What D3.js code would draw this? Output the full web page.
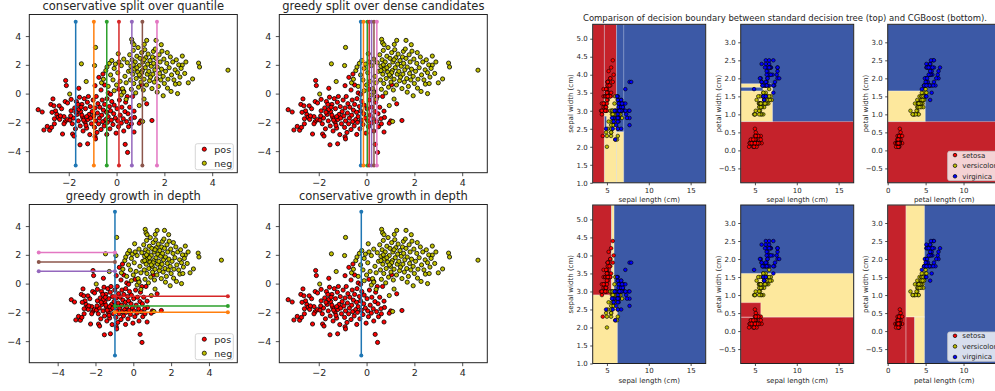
<!DOCTYPE html>
<html>
<head>
<meta charset="utf-8">
<script src="https://cdn.jsdelivr.net/npm/d3@7"></script>
<style>
  body { margin: 0; background: #fff; }
  svg text { font-family: "DejaVu Sans", sans-serif; fill: #262626; }
</style>
</head>
<body>
<svg id="chart" width="995" height="391"></svg>
<script>
// ---- toy data (left figure) ----
const posPoints = [
  [-3.28,-1.12],[-3.11,-1.28],[-3.04,-2.53],[-2.9,-2.28],[-2.66,-0.37],[-2.13,0.91],[-2.1,0.56],[-1.58,0.37],
  [-2.26,-2.81],[-1.84,-2.81],[-1.53,-3.56],[-1.21,-3.49],[-0.9,-3.0],[-0.88,-3.15],[-0.41,-2.84],[0.36,-3.53],
  [0.46,-4.09],[0.73,-2.67],[0.67,-0.2],[1.26,-0.71],[0.73,-1.22],[0.75,-1.66],[1.01,-1.9],[0.95,-2.06],
  [1.48,-1.87],[1.05,0.61],[-0.74,1.13],[-0.57,1.36],
  [-2.75,-0.75],[-2.62,-0.85],[-2.55,-1.2],[-2.5,-1.45],[-2.7,-1.3],[-2.45,-1.65],[-2.8,-2.55],[-2.72,-2.35],
  [-2.6,-2.1],[-2.38,-1.8],[-2.3,-1.05],[-2.2,-1.6],[-2.15,-1.95],[-2.05,-1.8],[-2.4,-0.85],[-2.15,-0.55],
  [-2.05,-0.65],[-2.2,-2.1],[-2.6,-1.75],[-2.35,-1.55],
  [-1.95,-1.85],[-1.9,-1.2],[-1.85,-2.1],[-1.8,-1.7],[-1.75,-1.0],[-1.72,-2.45],[-1.68,-0.55],[-1.65,-1.45],
  [-1.6,-1.9],[-1.55,-0.25],[-1.52,-2.25],[-1.5,-1.25],[-1.45,-0.75],[-1.42,-1.65],[-1.4,-2.6],[-1.35,-0.35],
  [-1.32,-2.0],[-1.3,-1.05],[-1.25,-2.4],[-1.22,-0.6],[-1.2,-1.8],[-1.15,-1.45],[-1.12,-2.85],[-1.1,-0.9],
  [-1.05,-2.1],[-1.02,-1.25],[-1.9,-0.4],[-1.78,-2.95],[-1.58,-1.1],[-1.48,-0.95],[-1.38,-1.85],[-1.28,-2.2],
  [-1.18,-0.2],[-1.62,-0.75],[-1.92,-1.55],[-1.7,-1.3],[-1.45,-1.5],[-1.25,-1.6],[-1.08,-1.7],
  [-0.98,-0.45],[-0.95,-1.55],[-0.92,-2.35],[-0.9,-1.0],[-0.88,-1.9],[-0.85,-0.2],[-0.82,-2.7],[-0.8,-1.35],
  [-0.78,-0.7],[-0.75,-2.1],[-0.72,-1.7],[-0.7,-0.95],[-0.65,-2.5],[-0.62,-1.5],[-0.6,-0.45],[-0.58,-1.95],
  [-0.55,-1.15],[-0.52,-2.25],[-0.5,-0.75],[-0.45,-1.8],[-0.42,-1.3],[-0.4,-0.35],[-0.38,-2.0],[-0.35,-1.6],
  [-0.3,-0.9],[-0.28,-2.45],[-0.25,-1.2],[-0.22,-1.85],[-0.2,-0.55],[-0.15,-2.15],[-0.12,-1.4],[-0.1,-0.8],
  [-0.05,-1.7],[-0.02,-2.75],[-0.35,0.05],[-0.65,0.25],[-0.9,0.55],[-0.5,0.6],[-0.25,-0.05],
  [0.02,-1.05],[0.05,-1.9],[0.08,-2.3],[0.12,-0.45],[0.15,-1.5],[0.2,-2.05],[0.22,-0.95],[0.28,-1.75],
  [0.3,-2.6],[0.35,-1.25],[0.38,-0.6],[0.42,-1.95],[0.48,-1.4],[0.5,-2.3],[0.55,-0.95],[0.6,-1.75],
  [0.62,-2.1],[0.1,0.3],[0.3,0.15],[0.45,-0.2]
];
const negPoints = [
  [4.66,1.63],[3.18,1.02],[3.43,2.12],[3.47,1.85],[2.75,2.61],[2.75,1.98],[2.55,0.0],[2.46,0.66],
  [2.13,0.38],[1.87,3.4],[1.65,3.7],[1.16,3.42],[0.63,3.77],[0.67,3.53],[0.73,3.4],[1.26,3.7],
  [-0.88,3.21],[-1.47,2.07],[-0.92,1.95],[-1.27,0.84],[-1.96,-0.03],[-0.63,0.75],[1.15,-0.38],[0.95,-0.83],
  [1.09,-1.94],[1.54,2.93],[0.07,2.77],
  [-0.45,1.6],[-0.4,1.85],[-0.3,2.1],[-0.25,1.3],[-0.2,2.3],[-0.15,0.95],[-0.1,1.75],[-0.05,2.05],
  [0.0,0.6],[0.05,1.45],[0.1,2.2],[0.15,0.85],[0.2,1.95],[0.25,0.35],[0.3,2.4],[0.35,1.2],
  [0.4,0.75],[0.45,2.15],[0.5,1.55],[-0.55,1.0],[-0.35,0.5],[0.2,-0.1],[-0.1,0.2],[0.4,-0.4],[0.3,0.1],
  [0.55,2.7],[0.58,0.95],[0.6,1.9],[0.62,0.3],[0.65,2.35],[0.68,1.35],[0.7,3.0],[0.72,0.7],
  [0.75,1.7],[0.78,2.2],[0.8,0.05],[0.82,1.05],[0.85,2.6],[0.88,1.5],[0.9,3.2],[0.92,0.45],
  [0.95,1.95],[0.98,2.45],[1.0,1.2],[1.02,0.8],[1.05,2.85],[1.08,1.6],[1.1,2.2],[1.12,0.25],
  [1.15,1.0],[1.18,3.05],[1.2,1.8],[1.22,2.5],[1.25,0.6],[1.28,1.35],[1.3,2.05],[1.32,2.75],
  [1.35,1.55],[1.38,0.9],[1.4,2.3],[1.42,1.15],[1.45,1.9],[1.48,0.35],[1.5,2.55],[0.6,1.6],
  [0.85,1.8],[1.05,1.45],[1.15,2.35],[0.7,2.0],[0.95,1.3],
  [1.52,1.35],[1.55,2.1],[1.58,0.8],[1.6,1.65],[1.62,3.1],[1.65,2.45],[1.68,1.05],[1.7,1.85],
  [1.75,0.5],[1.78,2.7],[1.8,1.4],[1.82,2.2],[1.85,0.95],[1.88,1.7],[1.9,2.95],[1.95,1.2],
  [1.98,2.4],[2.0,0.7],[2.05,1.55],[2.1,2.1],[2.12,2.85],[2.15,1.0],[2.2,1.8],[2.25,2.55],
  [2.3,1.3],[2.35,2.2],[2.4,0.95],[2.45,1.65],[2.5,2.35],[2.28,0.15],[1.7,0.1],[1.95,-0.15],
  [2.55,1.45],[2.6,2.0],[2.62,0.7],[2.65,1.15],[2.7,1.75],[2.85,1.4],[2.9,2.2],[3.0,0.75]
];
const tabColors = ["#1f77b4","#ff7f0e","#2ca02c","#d62728","#9467bd","#8c564b","#e377c2"];
const quantileSplits = [-1.71,-0.95,-0.41,0.10,0.64,1.08,1.69];
const denseSplits = [-0.24,-0.13,0.03,0.11,0.21,0.31,0.43];
const greedyRoot = -0.97;
const greedyLeftSplits = [0.86,1.51,2.16];   // purple, brown, pink
const greedyRightSplits = [-0.88,-1.56,-2.0]; // red, green, orange
const conservativeRoot = -0.22;

// ---- iris data (right figure) ----
const irisNames = ["setosa","versicolor","virginica"];
const sepalLength = [
  5.1,4.9,4.7,4.6,5.0,5.4,4.6,5.0,4.4,4.9,5.4,4.8,4.8,4.3,5.8,5.7,5.4,5.1,5.7,5.1,5.4,5.1,4.6,5.1,4.8,
  5.0,5.0,5.2,5.2,4.7,4.8,5.4,5.2,5.5,4.9,5.0,5.5,4.9,4.4,5.1,5.0,4.5,4.4,5.0,5.1,4.8,5.1,4.6,5.3,5.0,
  7.0,6.4,6.9,5.5,6.5,5.7,6.3,4.9,6.6,5.2,5.0,5.9,6.0,6.1,5.6,6.7,5.6,5.8,6.2,5.6,5.9,6.1,6.3,6.1,6.4,
  6.6,6.8,6.7,6.0,5.7,5.5,5.5,5.8,6.0,5.4,6.0,6.7,6.3,5.6,5.5,5.5,6.1,5.8,5.0,5.6,5.7,5.7,6.2,5.1,5.7,
  6.3,5.8,7.1,6.3,6.5,7.6,4.9,7.3,6.7,7.2,6.5,6.4,6.8,5.7,5.8,6.4,6.5,7.7,7.7,6.0,6.9,5.6,7.7,6.3,6.7,
  7.2,6.2,6.1,6.4,7.2,7.4,7.9,6.4,6.3,6.1,7.7,6.3,6.4,6.0,6.9,6.7,6.9,5.8,6.8,6.7,6.7,6.3,6.5,6.2,5.9
];
const sepalWidth = [
  3.5,3.0,3.2,3.1,3.6,3.9,3.4,3.4,2.9,3.1,3.7,3.4,3.0,3.0,4.0,4.4,3.9,3.5,3.8,3.8,3.4,3.7,3.6,3.3,3.4,
  3.0,3.4,3.5,3.4,3.2,3.1,3.4,4.1,4.2,3.1,3.2,3.5,3.6,3.0,3.4,3.5,2.3,3.2,3.5,3.8,3.0,3.8,3.2,3.7,3.3,
  3.2,3.2,3.1,2.3,2.8,2.8,3.3,2.4,2.9,2.7,2.0,3.0,2.2,2.9,2.9,3.1,3.0,2.7,2.2,2.5,3.2,2.8,2.5,2.8,2.9,
  3.0,2.8,3.0,2.9,2.6,2.4,2.4,2.7,2.7,3.0,3.4,3.1,2.3,3.0,2.5,2.6,3.0,2.6,2.3,2.7,3.0,2.9,2.9,2.5,2.8,
  3.3,2.7,3.0,2.9,3.0,3.0,2.5,2.9,2.5,3.6,3.2,2.7,3.0,2.5,2.8,3.2,3.0,3.8,2.6,2.2,3.2,2.8,2.8,2.7,3.3,
  3.2,2.8,3.0,2.8,3.0,2.8,3.8,2.8,2.8,2.6,3.0,3.4,3.1,3.0,3.1,3.1,3.1,2.7,3.2,3.3,3.0,2.5,3.0,3.4,3.0
];
const petalLength = [
  1.4,1.4,1.3,1.5,1.4,1.7,1.4,1.5,1.4,1.5,1.5,1.6,1.4,1.1,1.2,1.5,1.3,1.4,1.7,1.5,1.7,1.5,1.0,1.7,1.9,
  1.6,1.6,1.5,1.4,1.6,1.6,1.5,1.5,1.4,1.5,1.2,1.3,1.4,1.3,1.5,1.3,1.3,1.3,1.6,1.9,1.4,1.6,1.4,1.5,1.4,
  4.7,4.5,4.9,4.0,4.6,4.5,4.7,3.3,4.6,3.9,3.5,4.2,4.0,4.7,3.6,4.4,4.5,4.1,4.5,3.9,4.8,4.0,4.9,4.7,4.3,
  4.4,4.8,5.0,4.5,3.5,3.8,3.7,3.9,5.1,4.5,4.5,4.7,4.4,4.1,4.0,4.4,4.6,4.0,3.3,4.2,4.2,4.2,4.3,3.0,4.1,
  6.0,5.1,5.9,5.6,5.8,6.6,4.5,6.3,5.8,6.1,5.1,5.3,5.5,5.0,5.1,5.3,5.5,6.7,6.9,5.0,5.7,4.9,6.7,4.9,5.7,
  6.0,4.8,4.9,5.6,5.8,6.1,6.4,5.6,5.1,5.6,6.1,5.6,5.5,4.8,5.4,5.6,5.1,5.1,5.9,5.7,5.2,5.0,5.2,5.4,5.1
];
const petalWidth = [
  0.2,0.2,0.2,0.2,0.2,0.4,0.3,0.2,0.2,0.1,0.2,0.2,0.1,0.1,0.2,0.4,0.4,0.3,0.3,0.3,0.2,0.4,0.2,0.5,0.2,
  0.2,0.4,0.2,0.2,0.2,0.2,0.4,0.1,0.2,0.2,0.2,0.2,0.1,0.2,0.2,0.3,0.3,0.2,0.6,0.4,0.3,0.2,0.2,0.2,0.2,
  1.4,1.5,1.5,1.3,1.5,1.3,1.6,1.0,1.3,1.4,1.0,1.5,1.0,1.4,1.3,1.4,1.5,1.0,1.5,1.1,1.8,1.3,1.5,1.2,1.3,
  1.4,1.4,1.7,1.5,1.0,1.1,1.0,1.2,1.6,1.5,1.6,1.5,1.3,1.3,1.3,1.2,1.4,1.2,1.0,1.3,1.2,1.3,1.3,1.1,1.3,
  2.5,1.9,2.1,1.8,2.2,2.1,1.7,1.8,1.8,2.5,2.0,1.9,2.1,2.0,2.4,2.3,1.8,2.2,2.3,1.5,2.3,2.0,2.0,1.8,2.1,
  1.8,1.8,1.8,2.1,1.6,1.9,2.0,2.2,1.5,1.4,2.3,2.4,1.8,1.8,2.1,2.4,2.3,1.9,2.3,2.5,2.3,1.9,2.0,2.3,1.8
];
const irisClass = sepalLength.map((d, i) => Math.floor(i / 50));

// decision regions: [x0, x1, y0, y1, class] drawn over a blue background
const treeSepalRegions = [[3.3,4.7,1.0,5.4,0],[4.7,6.15,3.35,5.4,0],[4.7,6.15,1.0,3.35,1],
  [4.7,4.95,2.45,2.85,2],[6.15,7.0,1.0,2.42,1],[6.15,7.0,2.42,5.4,2]];
const treeMixedRegions = [[3.3,16.8,-0.9,0.8,0],[3.3,7.1,0.8,1.65,1],[5.95,7.1,1.65,1.75,1],[3.3,6.9,1.75,1.85,1]];
const treePetalRegions = [[0,14.9,-0.9,0.8,0],[0,4.95,0.8,1.65,1]];
const boostSepalRegions = [[3.3,5.55,2.9,5.4,0],[3.3,6.25,1.0,2.9,1],[5.55,5.85,2.9,5.4,1]];
const boostMixedRegions = [[3.3,16.8,-0.9,0.39,0],[3.3,16.8,0.39,1.6,1],[3.3,5.7,0.39,0.79,0]];
const boostPetalRegions = [[0,2.42,-0.9,3.5,0],[2.42,4.85,0.39,3.5,1],[2.42,3.55,-0.9,0.39,0],[3.55,4.85,-0.9,0.39,1]];

const regionColors = ["#c5222b", "#fde89d", "#3c59a6"];
const irisColors = ["#ff0000", "#bfbf00", "#0000ff"];

const svg = d3.select("#chart");
const defs = svg.append("defs");
const font = '"DejaVu Sans", sans-serif';

function makeScales(box, xDom, yDom) {
  return {
    x: d3.scaleLinear().domain(xDom).range([box.x, box.x + box.w]),
    y: d3.scaleLinear().domain(yDom).range([box.y + box.h, box.y])
  };
}

function clipFor(id, box) {
  defs.append("clipPath").attr("id", id).append("rect")
    .attr("x", box.x).attr("y", box.y).attr("width", box.w).attr("height", box.h);
  return `url(#${id})`;
}

function drawAxes(box, sc, xTicks, yTicks, o) {
  const xa = svg.append("g")
    .attr("transform", `translate(0,${box.y + box.h})`)
    .call(d3.axisBottom(sc.x).tickValues(xTicks).tickFormat(o.xFmt)
      .tickSize(o.tick).tickPadding(o.pad).tickSizeOuter(0));
  const ya = svg.append("g")
    .attr("transform", `translate(${box.x},0)`)
    .call(d3.axisLeft(sc.y).tickValues(yTicks).tickFormat(o.yFmt)
      .tickSize(o.tick).tickPadding(o.ypad).tickSizeOuter(0));
  [xa, ya].forEach(a => {
    a.select(".domain").remove();
    a.attr("font-size", o.font).attr("font-family", font);
    a.selectAll("line").attr("stroke", "#262626").attr("stroke-width", 0.8);
    a.selectAll("text").attr("fill", "#262626");
  });
}

function frame(box) {
  svg.append("rect").attr("x", box.x).attr("y", box.y)
    .attr("width", box.w).attr("height", box.h)
    .attr("fill", "none").attr("stroke", "#222").attr("stroke-width", 1);
}

function legend(x, y, w, h, items, o) {
  const g = svg.append("g");
  g.append("rect").attr("x", x).attr("y", y).attr("width", w).attr("height", h)
    .attr("rx", 2).attr("fill", "#fff").attr("fill-opacity", 0.8)
    .attr("stroke", "#ccc").attr("stroke-width", 0.8);
  items.forEach((it, i) => {
    const cy = y + o.first + i * o.gap;
    g.append("circle").attr("cx", x + o.mx).attr("cy", cy).attr("r", o.r)
      .attr("fill", it.color).attr("stroke", "#000").attr("stroke-width", 0.7);
    g.append("text").attr("x", x + o.tx).attr("y", cy).attr("dy", "0.35em")
      .attr("font-size", o.font).text(it.label);
  });
}

// ---------------- left figure ----------------
const leftAxOpts = { xFmt: d3.format("d"), yFmt: d3.format("d"), tick: 3.5, pad: 3.5, ypad: 4.5, font: 9.5 };

function toyPanel(id, box, xDom, xTicks, title) {
  const sc = makeScales(box, xDom, [-5.5, 5.5]);
  drawAxes(box, sc, xTicks, [-4, -2, 0, 2, 4], leftAxOpts);
  const g = svg.append("g").attr("clip-path", clipFor(id, box));
  g.selectAll(".pos").data(posPoints).join("circle")
    .attr("cx", d => sc.x(d[0])).attr("cy", d => sc.y(d[1])).attr("r", 2.1)
    .attr("fill", "#ff0000").attr("stroke", "#000").attr("stroke-width", 0.8);
  g.selectAll(".neg").data(negPoints).join("circle")
    .attr("cx", d => sc.x(d[0])).attr("cy", d => sc.y(d[1])).attr("r", 2.1)
    .attr("fill", "#bfbf00").attr("stroke", "#000").attr("stroke-width", 0.8);
  svg.append("text").attr("x", box.x + box.w / 2).attr("y", box.y - 5)
    .attr("text-anchor", "middle").attr("font-size", 11.5).text(title);
  return { sc, g };
}

function splitLine(g, sc, x0, y0, x1, y1, color) {
  g.append("line").attr("x1", sc.x(x0)).attr("y1", sc.y(y0))
    .attr("x2", sc.x(x1)).attr("y2", sc.y(y1))
    .attr("stroke", color).attr("stroke-width", 1.5);
  [[x0, y0], [x1, y1]].forEach(p => g.append("circle")
    .attr("cx", sc.x(p[0])).attr("cy", sc.y(p[1])).attr("r", 2).attr("fill", color));
}

const toyLegend = [{ label: "pos", color: "#ff0000" }, { label: "neg", color: "#bfbf00" }];
const toyLegendOpts = { first: 5.5, gap: 14, mx: 9, tx: 19, r: 2.1, font: 9.5 };

const boxTL = { x: 29.3, y: 14.5, w: 208, h: 158.2 };
const boxTR = { x: 279.3, y: 14.5, w: 208, h: 158.2 };
const boxBL = { x: 29.3, y: 204.5, w: 208, h: 158.2 };
const boxBR = { x: 279.3, y: 204.5, w: 208, h: 158.2 };

const pTL = toyPanel("cTL", boxTL, [-3.65, 5.05], [-2, 0, 2, 4], "conservative split over quantile");
quantileSplits.forEach((v, i) => splitLine(pTL.g, pTL.sc, v, -5, v, 5, tabColors[i]));
frame(boxTL);
legend(boxTL.x + boxTL.w - 42, boxTL.y + boxTL.h - 29, 38, 26, toyLegend, toyLegendOpts);

const pTR = toyPanel("cTR", boxTR, [-3.65, 5.05], [-2, 0, 2, 4], "greedy split over dense candidates");
denseSplits.forEach((v, i) => splitLine(pTR.g, pTR.sc, v, -5, v, 5, tabColors[i]));
frame(boxTR);

const pBL = toyPanel("cBL", boxBL, [-5.5, 5.5], [-4, -2, 0, 2, 4], "greedy growth in depth");
splitLine(pBL.g, pBL.sc, greedyRoot, -5, greedyRoot, 5, tabColors[0]);
greedyRightSplits.forEach((v, i) => splitLine(pBL.g, pBL.sc, greedyRoot, v, 5, v, tabColors[3 - i]));
greedyLeftSplits.forEach((v, i) => splitLine(pBL.g, pBL.sc, -5, v, greedyRoot, v, tabColors[4 + i]));
frame(boxBL);
legend(boxBL.x + boxBL.w - 42, boxBL.y + boxBL.h - 29, 38, 26, toyLegend, toyLegendOpts);

const pBR = toyPanel("cBR", boxBR, [-3.65, 5.05], [-2, 0, 2, 4], "conservative growth in depth");
splitLine(pBR.g, pBR.sc, conservativeRoot, -5, conservativeRoot, 5, tabColors[0]);
frame(boxBR);

// ---------------- right figure ----------------
const rightAxOpts = { xFmt: d3.format("d"), yFmt: d3.format(".1f"), tick: 2.5, pad: 2.5, ypad: 2.5, font: 7 };
const sepalTicks = [1.0, 1.5, 2.0, 2.5, 3.0, 3.5, 4.0, 4.5, 5.0];
const petalWTicks = [-0.5, 0.0, 0.5, 1.0, 1.5, 2.0, 2.5, 3.0];

function irisPanel(id, box, xs, ys, xDom, yDom, xTicks, yTicks, regions, xlabel, ylabel) {
  const sc = makeScales(box, xDom, yDom);
  const g = svg.append("g").attr("clip-path", clipFor(id, box));
  g.append("rect").attr("x", box.x).attr("y", box.y).attr("width", box.w).attr("height", box.h)
    .attr("fill", regionColors[2]);
  g.selectAll(".region").data(regions).join("rect")
    .attr("x", d => sc.x(d[0])).attr("width", d => sc.x(d[1]) - sc.x(d[0]))
    .attr("y", d => sc.y(d[3])).attr("height", d => sc.y(d[2]) - sc.y(d[3]))
    .attr("fill", d => regionColors[d[4]])
    .attr("stroke", "rgba(255,255,255,0.35)").attr("stroke-width", 1);
  g.selectAll(".pt").data(xs.map((v, i) => [v, ys[i], irisClass[i]])).join("circle")
    .attr("cx", d => sc.x(d[0])).attr("cy", d => sc.y(d[1])).attr("r", 1.8)
    .attr("fill", d => irisColors[d[2]]).attr("stroke", "#000").attr("stroke-width", 0.6);
  drawAxes(box, sc, xTicks, yTicks, rightAxOpts);
  frame(box);
  svg.append("text").attr("x", box.x + box.w / 2).attr("y", box.y + box.h + 19)
    .attr("text-anchor", "middle").attr("font-size", 7).text(xlabel);
  svg.append("text")
    .attr("transform", `translate(${box.x - 20},${box.y + box.h / 2}) rotate(-90)`)
    .attr("text-anchor", "middle").attr("font-size", 7).text(ylabel);
}

const rTop = 24.3, rBot = 205, rH = 158.5, rW = 113;
const colX = [592.7, 740.7, 887.7];

irisPanel("rA", { x: colX[0], y: rTop, w: rW, h: rH }, sepalLength, sepalWidth, [3.3, 16.8], [1.0, 5.4],
  [5, 10, 15], sepalTicks, treeSepalRegions, "sepal length (cm)", "sepal width (cm)");
irisPanel("rB", { x: colX[1], y: rTop, w: rW, h: rH }, sepalLength, petalWidth, [3.3, 16.8], [-0.9, 3.5],
  [5, 10, 15], petalWTicks, treeMixedRegions, "sepal length (cm)", "petal width (cm)");
irisPanel("rC", { x: colX[2], y: rTop, w: rW, h: rH }, petalLength, petalWidth, [0, 14.9], [-0.9, 3.5],
  [0, 5, 10], petalWTicks, treePetalRegions, "petal length (cm)", "petal width (cm)");
irisPanel("rD", { x: colX[0], y: rBot, w: rW, h: rH }, sepalLength, sepalWidth, [3.3, 16.8], [1.0, 5.4],
  [5, 10, 15], sepalTicks, boostSepalRegions, "sepal length (cm)", "sepal width (cm)");
irisPanel("rE", { x: colX[1], y: rBot, w: rW, h: rH }, sepalLength, petalWidth, [3.3, 16.8], [-0.9, 3.5],
  [5, 10, 15], petalWTicks, boostMixedRegions, "sepal length (cm)", "petal width (cm)");
irisPanel("rF", { x: colX[2], y: rBot, w: rW, h: rH }, petalLength, petalWidth, [0, 14.9], [-0.9, 3.5],
  [0, 5, 10], petalWTicks, boostPetalRegions, "petal length (cm)", "petal width (cm)");

const irisLegend = irisNames.map((n, i) => ({ label: n, color: irisColors[i] }));
const irisLegendOpts = { first: 3.8, gap: 10.6, mx: 7.3, tx: 14.6, r: 1.8, font: 7 };
legend(colX[2] + 60, rTop + rH - 31.5, 62, 29.3, irisLegend, irisLegendOpts);
legend(colX[2] + 60, rBot + rH - 31.5, 62, 29.3, irisLegend, irisLegendOpts);

svg.append("text").attr("x", 785).attr("y", 21).attr("text-anchor", "middle").attr("font-size", 8.5)
  .text("Comparison of decision boundary between standard decision tree (top) and CGBoost (bottom).");
</script>
</body>
</html>
